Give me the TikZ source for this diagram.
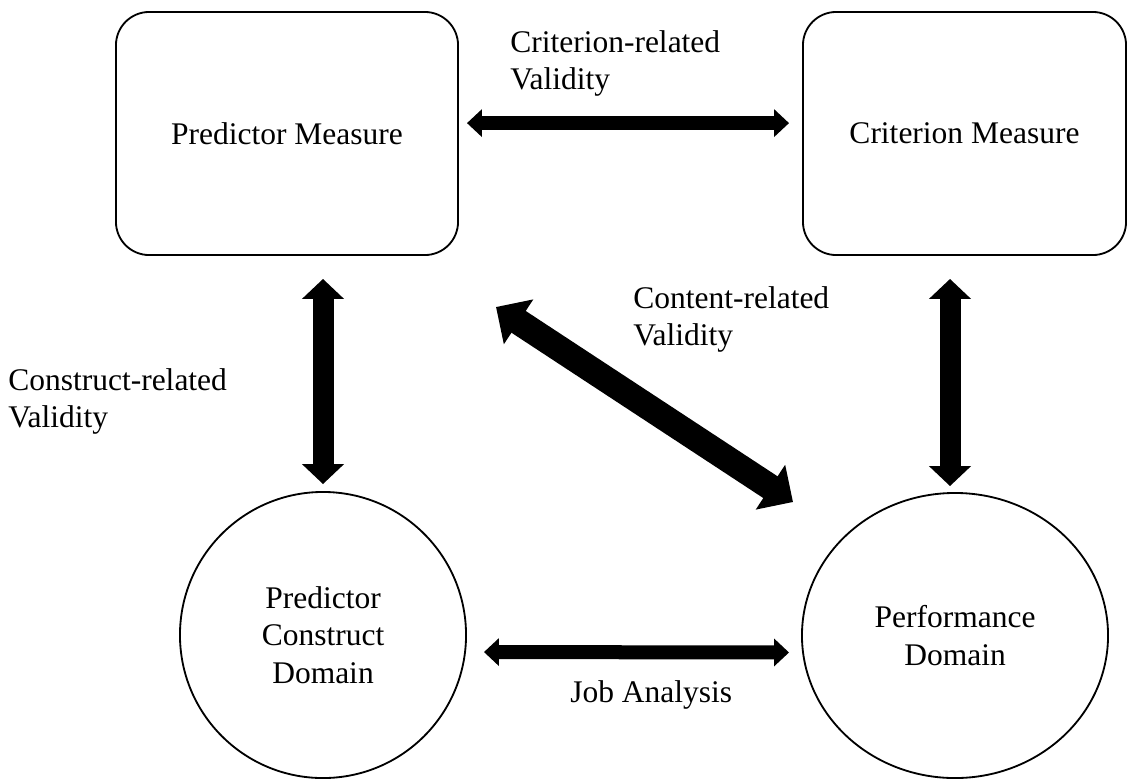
\documentclass[tikz,border=0pt]{standalone}
\usepackage{fontspec}
\setmainfont{Liberation Serif}
\usetikzlibrary{arrows.meta}
\usetikzlibrary{shapes.geometric}

\begin{document}
\begin{tikzpicture}[x=0.025cm, y=-0.025cm,
    every node/.style={font=\fontsize{22.4}{25.9}\selectfont},
    measurebox/.style={draw, line width=1.3pt, rounded corners=0.83cm,
      minimum width=8.55cm, minimum height=6.075cm, inner sep=0pt},
    domainshape/.style={draw, line width=1.3pt, align=center, inner sep=0pt},
    vallabel/.style={align=left, inner sep=0pt, anchor=north west},
    flatarrow/.style={line width=0.35cm,
      {Triangle[width=0.675cm,length=0.375cm]}-{Triangle[width=0.675cm,length=0.375cm]}},
    uparrow/.style={line width=0.525cm,
      {Triangle[width=1.025cm,length=0.5cm]}-{Triangle[width=1.025cm,length=0.5cm]}},
    wideuparrow/.style={line width=0.65cm,
      {Triangle[width=1.3cm,length=0.675cm]}-{Triangle[width=1.3cm,length=0.675cm]}}]
    \useasboundingbox (0,0) rectangle (1128,778);

    % measures and domains
    \node[measurebox] (pm) at (287,133.5) {Predictor Measure};
    \node[measurebox, minimum width=8.075cm] (cm) at (964.5,133.5) {Criterion Measure};
    \node[domainshape, circle, minimum size=7.15cm] (pcd) at (323,635)
      {Predictor\\[0.7pt]Construct\\[0.7pt]Domain};
    \node[domainshape, ellipse, minimum width=7.65cm, minimum height=7.125cm] (pd)
      at (955,635.5) {Performance\\[0.5pt]Domain};

    % validity arrows
    \draw[flatarrow, shorten <=0.2cm, shorten >=0.325cm]
      ([yshift=0.26cm]pm.east) -- ([yshift=0.26cm]cm.west);
    \draw[uparrow, shorten <=0.575cm, shorten >=0.175cm]
      (pm.south -| pcd.north) -- (pcd.north);
    \draw[uparrow, shorten <=0.575cm, shorten >=0.15cm]
      ([xshift=-0.125cm]pd.north |- cm.south) -- ([xshift=-0.125cm]pd.north);
    \draw[flatarrow, shorten <=0.425cm, shorten >=0.3cm]
      ([yshift=-0.425cm]pcd.east) -- ([yshift=-0.425cm]pd.west);
    \coordinate (cv-a) at (496,307);
    \coordinate (cv-b) at (793,502);
    \draw[wideuparrow] (cv-a) -- (cv-b);

    % labels
    \node[vallabel] (crit) at (510,30.5) {Criterion-related\\Validity};
    \node[vallabel] (cont) at (633,286.5) {Content-related\\Validity};
    \node[vallabel] (cons) at (8,368.5) {Construct-related\\Validity};
    \node[anchor=base west, inner sep=0pt] (job) at (570,702) {Job Analysis};
\end{tikzpicture}
\end{document}
